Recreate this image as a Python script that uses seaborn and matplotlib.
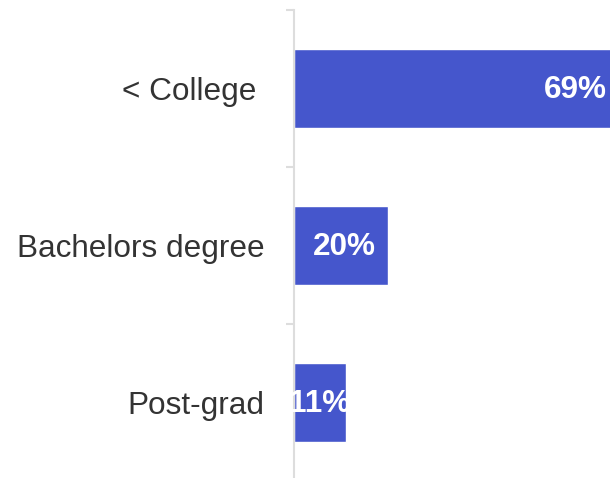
import matplotlib
matplotlib.use("Agg")
import matplotlib.pyplot as plt
import seaborn as sns
import pandas as pd

categories = ["< College ", "Bachelors degree", "Post-grad"]
shares = [69, 20, 11]
labels = ["69%", "20%", "11%"]

BAR_COLOR = "#4556CC"
TEXT_COLOR = "#333333"
AXIS_COLOR = "#dddddd"

sns.set_style("white")
plt.rcParams["font.family"] = ["Liberation Sans", "DejaVu Sans"]

df = pd.DataFrame({"category": categories, "share": shares})

fig = plt.figure(figsize=(6.10, 4.78), dpi=100)
# axes runs a little past the right edge, as in the reference
ax = fig.add_axes([294 / 610, 1 - 481 / 478, 325 / 610, 471 / 478])

sns.barplot(data=df, x="share", y="category", color=BAR_COLOR,
            saturation=1, width=0.5, ax=ax)

ax.set_xlim(0, max(shares))
ax.set_ylim(len(categories) - 0.5, -0.5)
ax.set_xlabel("")
ax.set_ylabel("")
ax.set_xticks([])

for s in ["top", "right", "bottom"]:
    ax.spines[s].set_visible(False)
ax.spines["left"].set_color(AXIS_COLOR)
ax.spines["left"].set_linewidth(1.5)

ax.tick_params(axis="y", which="major", length=0, pad=21,
               labelsize=22.7, labelcolor=TEXT_COLOR)
ax.set_yticks([i - 0.5 for i in range(len(categories) + 1)], minor=True)
ax.tick_params(axis="y", which="minor", left=True, length=6, width=1.5,
               color=AXIS_COLOR)

for i, (v, lab) in enumerate(zip(shares, labels)):
    if v >= 15:
        ax.annotate(lab, (v, i), xytext=(-9, -1), textcoords="offset points",
                    ha="right", va="center", color="white",
                    fontsize=22.7, fontweight="bold")
    else:
        ax.annotate(lab, (v / 2, i), xytext=(0, -1), textcoords="offset points",
                    ha="center", va="center", color="white",
                    fontsize=22.7, fontweight="bold")

fig.savefig("out.png", dpi=100)
